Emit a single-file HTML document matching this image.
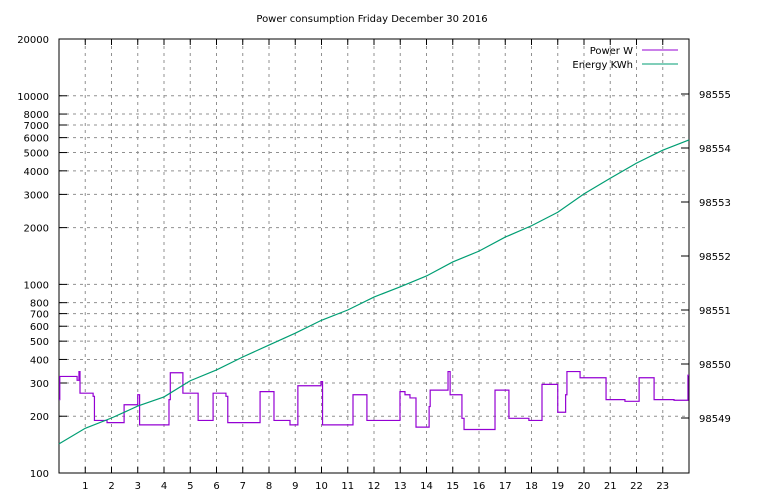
<!DOCTYPE html>
<html><head><meta charset="utf-8"><style>
body{margin:0;background:#fff}
svg{display:block;font-family:"DejaVu Sans","Liberation Sans",sans-serif;font-size:10px}
</style></head><body>
<svg id="c" width="768" height="500"></svg>
<script>
const powerSteps=[[0,245],[0.03,325],[0.69,310],[0.76,345],[0.8,265],[1.3,255],[1.35,190],[1.83,185],[2.48,230],[3.0,260],[3.07,180],[4.19,245],[4.24,340],[4.72,265],[5.3,190],[5.87,265],[6.36,255],[6.43,185],[7.66,270],[8.19,190],[8.8,180],[9.1,290],[9.98,305],[10.04,180],[11.2,260],[11.73,190],[12.99,270],[13.18,260],[13.37,250],[13.6,175],[14.1,225],[14.14,275],[14.82,345],[14.9,260],[15.35,195],[15.43,170],[16.61,275],[17.14,195],[17.9,190],[18.4,295],[19.0,210],[19.3,260],[19.35,345],[19.85,320],[20.84,245],[21.56,240],[22.1,320],[22.67,245],[23.43,243],[23.96,330]];
const energyHours=[0,1,2,3,4,5,6,7,8,9,10,11,12,13,14,15,16,17,18,19,20,21,22,23,24];
const energyValues=[98548.52,98548.81,98549.00,98549.22,98549.39,98549.69,98549.89,98550.13,98550.35,98550.57,98550.81,98551.00,98551.24,98551.43,98551.63,98551.89,98552.09,98552.35,98552.56,98552.81,98553.15,98553.44,98553.72,98553.96,98554.15];
const leftTicks=[100,200,300,400,500,600,700,800,1000,2000,3000,4000,5000,6000,7000,8000,10000,20000];
const rightTicks=[98549,98550,98551,98552,98553,98554,98555];
const xTicks=[1,2,3,4,5,6,7,8,9,10,11,12,13,14,15,16,17,18,19,20,21,22,23];

const L=59,R=689,T=39,B=473;
const xs=h=>L+(R-L)*h/24;
const ys=w=>B-(B-T)*(Math.log10(w)-2)/(Math.log10(20000)-2);
const yr=v=>418-(v-98549)*54;
const svg=document.getElementById('c');
const NS='http://www.w3.org/2000/svg';
function mk(tag,a,txt){const e=document.createElementNS(NS,tag);for(const k in a)e.setAttribute(k,a[k]);if(txt!=null)e.textContent=txt;svg.appendChild(e);return e;}

let e=mk('text',{x:372,y:22,'text-anchor':'middle'},'Power consumption Friday December 30 2016');



leftTicks.forEach(t=>{const y=ys(t);
 let g=mk('line',{x1:L,x2:R,y1:y,y2:y,stroke:'#909090','stroke-dasharray':'3,4'});
 
 
 mk('line',{x1:L,x2:L+8,y1:y,y2:y,stroke:'#000'});
 let l=mk('text',{x:L-10,y:y+4,'text-anchor':'end'},String(t));
 
 
});
xTicks.forEach(t=>{const x=xs(t);
 let g=mk('line',{x1:x,x2:x,y1:T,y2:B,stroke:'#909090','stroke-dasharray':'3,4'});
 
 
 mk('line',{x1:x,x2:x,y1:B,y2:B-6,stroke:'#000'});
 mk('line',{x1:x,x2:x,y1:T,y2:T+6,stroke:'#000'});
 let l=mk('text',{x:x,y:B+16,'text-anchor':'middle'},String(t));
 
 
});
rightTicks.forEach(t=>{const y=yr(t);
 mk('line',{x1:R,x2:R-8,y1:y,y2:y,stroke:'#000'});
 let l=mk('text',{x:R+10,y:y+4},String(t));
 
 
});
let f=mk('rect',{x:L,y:T,width:R-L,height:B-T,fill:'none',stroke:'#000'});



let d='';
powerSteps.forEach((p,i)=>{const x=xs(p[0]),y=ys(p[1]);
 if(i===0)d+='M'+x+','+y;else d+=' H'+x+' V'+y;});
d+=' H'+xs(24);
let pl=mk('path',{d:d,fill:'none',stroke:'#9400d3','stroke-width':1.2});



let pts=energyHours.map((h,i)=>xs(h)+','+yr(energyValues[i])).join(' ');
let el=mk('polyline',{points:pts,fill:'none',stroke:'#009e73','stroke-width':1.2});



let t1=mk('text',{x:633,y:54,'text-anchor':'end'},'Power W');


let l1=mk('line',{x1:642,x2:678,y1:50,y2:50,stroke:'#9400d3'});


let t2=mk('text',{x:633,y:68,'text-anchor':'end'},'Energy KWh');


let l2=mk('line',{x1:642,x2:678,y1:64,y2:64,stroke:'#009e73'});


</script>
</body></html>
